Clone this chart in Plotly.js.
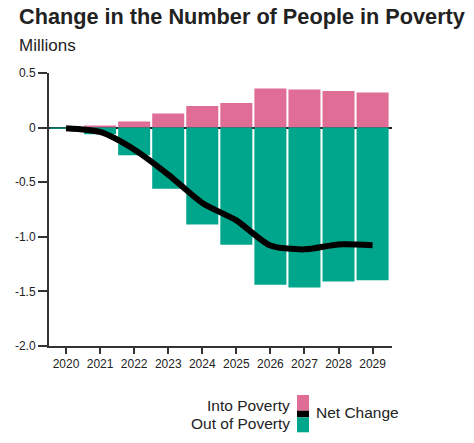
<!DOCTYPE html>
<html>
<head>
<meta charset="utf-8">
<script src="https://cdn.plot.ly/plotly-3.0.1.min.js"></script>
<style>
html,body{margin:0;padding:0;background:#fff;}
#chart{width:474px;height:443px;}
</style>
</head>
<body>
<div id="chart"></div>
<script>
var years = [2020, 2021, 2022, 2023, 2024, 2025, 2026, 2027, 2028, 2029];
var intoPoverty = [0.0, 0.02, 0.055, 0.13, 0.198, 0.226, 0.358, 0.349, 0.336, 0.321];
var outOfPoverty = [-0.01, -0.06, -0.254, -0.56, -0.887, -1.073, -1.438, -1.465, -1.41, -1.398];
var netChange = [-0.005, -0.04, -0.2, -0.43, -0.69, -0.85, -1.08, -1.115, -1.07, -1.078];
var yTickVals = [0.5, 0, -0.5, -1.0, -1.5, -2.0];
var yTickText = ['0.5', '0', '-0.5', '-1.0', '-1.5', '-2.0'];
var xTickText = ['2020', '2021', '2022', '2023', '2024', '2025', '2026', '2027', '2028', '2029'];

var PINK = '#DF6D95';
var TEAL = '#00A68C';
var FONT = 'Liberation Sans, Arial, Helvetica, sans-serif';
var TXT = '#222222';

var traces = [
  {type: 'bar', x: years, y: intoPoverty, name: 'Into Poverty', marker: {color: PINK, line: {width: 0}}, hoverinfo: 'skip'},
  {type: 'bar', x: years, y: outOfPoverty, name: 'Out of Poverty', marker: {color: TEAL, line: {width: 0}}, hoverinfo: 'skip'},
  {type: 'scatter', mode: 'lines', x: years, y: netChange, name: 'Net Change',
   line: {color: '#000000', width: 6, shape: 'spline', smoothing: 0.7}, hoverinfo: 'skip'}
];

// plot area in px: x 49..392, y 73..346
function px2x(p){ return (p - 49) / 343; }
function px2y(p){ return (346 - p) / 273; }

var layout = {
  width: 474, height: 443,
  margin: {l: 49, r: 82, t: 73, b: 97, pad: 0},
  paper_bgcolor: '#ffffff', plot_bgcolor: '#ffffff',
  font: {family: FONT, color: TXT, size: 12},
  showlegend: false,
  barmode: 'relative',
  bargap: 0.06,
  xaxis: {
    range: [2019.5, 2029.57], tickvals: years, ticktext: xTickText,
    showgrid: false, zeroline: false,
    showline: true, linecolor: '#333333', linewidth: 2,
    ticks: 'outside', ticklen: 6, tickwidth: 2, tickcolor: '#333333',
    tickfont: {family: FONT, size: 12, color: TXT}, fixedrange: true
  },
  yaxis: {
    range: [-2.0, 0.5], tickvals: yTickVals, ticktext: yTickText,
    showgrid: false, zeroline: true, zerolinecolor: '#222222', zerolinewidth: 2,
    showline: true, linecolor: '#333333', linewidth: 2,
    ticks: 'outside', ticklen: 9, tickwidth: 2, tickcolor: '#333333',
    tickfont: {family: FONT, size: 12, color: TXT}, fixedrange: true
  },
  annotations: [
    {text: '<b>Change in the Number of People in Poverty</b>', xref: 'paper', yref: 'paper',
     x: px2x(17), y: px2y(16), xanchor: 'left', yanchor: 'middle', showarrow: false,
     font: {family: FONT, size: 21.7, color: TXT}},
    {text: 'Millions', xref: 'paper', yref: 'paper',
     x: px2x(17), y: px2y(46), xanchor: 'left', yanchor: 'middle', showarrow: false,
     font: {family: FONT, size: 17, color: TXT}},
    {text: 'Into Poverty', xref: 'paper', yref: 'paper',
     x: px2x(292), y: px2y(405), xanchor: 'right', yanchor: 'middle', showarrow: false,
     font: {family: FONT, size: 15.5, color: TXT}},
    {text: 'Out of Poverty', xref: 'paper', yref: 'paper',
     x: px2x(292), y: px2y(423.5), xanchor: 'right', yanchor: 'middle', showarrow: false,
     font: {family: FONT, size: 15.5, color: TXT}},
    {text: 'Net Change', xref: 'paper', yref: 'paper',
     x: px2x(314), y: px2y(412.5), xanchor: 'left', yanchor: 'middle', showarrow: false,
     font: {family: FONT, size: 15.5, color: TXT}}
  ],
  shapes: [
    {type: 'rect', xref: 'paper', yref: 'paper', x0: px2x(297), x1: px2x(309), y0: px2y(395), y1: px2y(410.7),
     fillcolor: PINK, line: {width: 0}},
    {type: 'rect', xref: 'paper', yref: 'paper', x0: px2x(297), x1: px2x(309), y0: px2y(410.7), y1: px2y(417.3),
     fillcolor: '#000000', line: {width: 0}},
    {type: 'rect', xref: 'paper', yref: 'paper', x0: px2x(297), x1: px2x(309), y0: px2y(417.3), y1: px2y(432.3),
     fillcolor: TEAL, line: {width: 0}}
  ]
};

Plotly.newPlot('chart', traces, layout, {displayModeBar: false, staticPlot: true});
</script>
</body>
</html>
